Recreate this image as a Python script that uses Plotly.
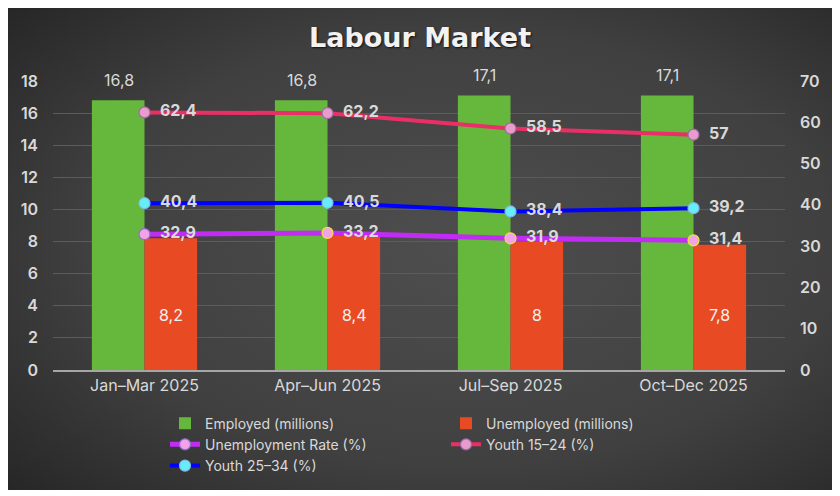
import base64
import plotly.graph_objects as go

quarters = ["Jan–Mar 2025", "Apr–Jun 2025", "Jul–Sep 2025", "Oct–Dec 2025"]
employed = [16.8, 16.8, 17.1, 17.1]
unemployed = [8.2, 8.4, 8, 7.8]
unemployment_rate = [32.9, 33.2, 31.9, 31.4]
youth_15_24 = [62.4, 62.2, 58.5, 57]
youth_25_34 = [40.4, 40.5, 38.4, 39.2]


def fmt(v):
    # comma decimals, drop trailing ,0
    return ("%g" % v).replace(".", ",")


TXT = "#d9d9d9"
FONT = "Inter"

# page body has an 8px margin, so the figure is a bit smaller than the window
W, H = 832, 488
L, R, T, B = 45, 55, 73, 126
PW, PH = W - L - R, H - T - B

# dark radial-gradient card behind everything
svg = (
    '<svg xmlns="http://www.w3.org/2000/svg" width="826" height="482" preserveAspectRatio="none">'
    '<defs><radialGradient id="g" cx="55%" cy="50%" r="75%">'
    '<stop offset="0" stop-color="#4e4e4e"/><stop offset="0.6" stop-color="#404040"/>'
    '<stop offset="1" stop-color="#262626"/></radialGradient></defs>'
    '<rect width="826" height="482" fill="url(#g)"/></svg>'
)
bg_src = "data:image/svg+xml;base64," + base64.b64encode(svg.encode()).decode()

fig = go.Figure()

fig.add_trace(
    go.Bar(
        x=quarters,
        y=employed,
        name="Employed (millions)",
        marker=dict(color="#66b83c", line=dict(width=0)),
    )
)
fig.add_trace(
    go.Bar(
        x=quarters,
        y=unemployed,
        name="Unemployed (millions)",
        marker=dict(color="#e84a24", line=dict(width=0)),
    )
)

# labels floating above the green bars
for q, v in zip(quarters, employed):
    fig.add_annotation(
        x=q, y=v, text=fmt(v), showarrow=False,
        xshift=-26, yshift=20,
        font=dict(color=TXT, size=16, family=FONT),
    )

# labels inside the red bars, sitting in their lower part
for q, v in zip(quarters, unemployed):
    fig.add_annotation(
        x=q, y=0, text=fmt(v), showarrow=False,
        xshift=26, yshift=55,
        font=dict(color="#f2f2f2", size=16, family=FONT),
    )

# line series on the right axis
lines = [
    ("Unemployment Rate (%)", unemployment_rate, "#c12cf5", "#f2a2e6",
     ["#8a6fd0", "#f2e23a", "#f2e23a", "#f2e23a"], 5),
    ("Youth 15–24 (%)", youth_15_24, "#ea2f66", "#e99ccb",
     ["#9a6aa8"] * 4, 4),
    ("Youth 25–34 (%)", youth_25_34, "#0000ff", "#66eef8",
     ["#7fb8f0"] * 4, 4),
]
for name, vals, col, mcol, mline, w in lines:
    fig.add_trace(
        go.Scatter(
            x=quarters,
            y=vals,
            name=name,
            yaxis="y2",
            mode="lines+markers+text",
            line=dict(color=col, width=w),
            marker=dict(color=mcol, size=11, line=dict(color=mline, width=1.2)),
            text=["  " + fmt(v) for v in vals],
            textposition="middle right",
            textfont=dict(color=TXT, size=16, family=FONT, weight="bold"),
            cliponaxis=False,
        )
    )

fig.update_layout(
    width=W,
    height=H,
    paper_bgcolor="white",
    plot_bgcolor="rgba(0,0,0,0)",
    margin=dict(l=L, r=R, t=T, b=B, autoexpand=False),
    barmode="group",
    bargap=0.425,
    bargroupgap=0,
    font=dict(family=FONT, color=TXT, size=15),
    showlegend=True,
    title=dict(
        text="<b>Labour Market</b>",
        x=412 / W,
        xanchor="center",
        y=1 - 30 / H,
        yanchor="middle",
        font=dict(family="DejaVu Sans", size=27, color="#f2f2f2",
                  shadow="1px 1px 2px #111"),
    ),
    xaxis=dict(
        showline=True,
        linecolor="#a6a6a6",
        linewidth=1.5,
        ticks="",
        tickfont=dict(size=16, color=TXT),
    ),
    yaxis=dict(
        range=[0, 18],
        dtick=2,
        showgrid=True,
        gridcolor="#5c5c5c",
        gridwidth=1,
        zeroline=False,
        ticks="",
        ticklabelstandoff=14,
        tickfont=dict(size=16, color=TXT, weight=600),
    ),
    yaxis2=dict(
        range=[0, 70],
        dtick=10,
        overlaying="y",
        side="right",
        showgrid=False,
        zeroline=False,
        ticks="",
        ticklabelstandoff=14,
        tickfont=dict(size=16, color=TXT, weight=600),
    ),
    legend=dict(
        orientation="h",
        x=0.153,
        xanchor="left",
        y=-0.13,
        yanchor="top",
        itemwidth=30,
        entrywidth=236,
        entrywidthmode="pixels",
        tracegroupgap=0,
        font=dict(size=14, color=TXT),
        bgcolor="rgba(0,0,0,0)",
    ),
    images=[
        dict(
            source=bg_src,
            xref="paper",
            yref="paper",
            x=-L / PW,
            y=(PH + T) / PH,
            sizex=826 / PW,
            sizey=482 / PH,
            sizing="stretch",
            xanchor="left",
            yanchor="top",
            layer="below",
        )
    ],
)

fig.write_html("out.html")
